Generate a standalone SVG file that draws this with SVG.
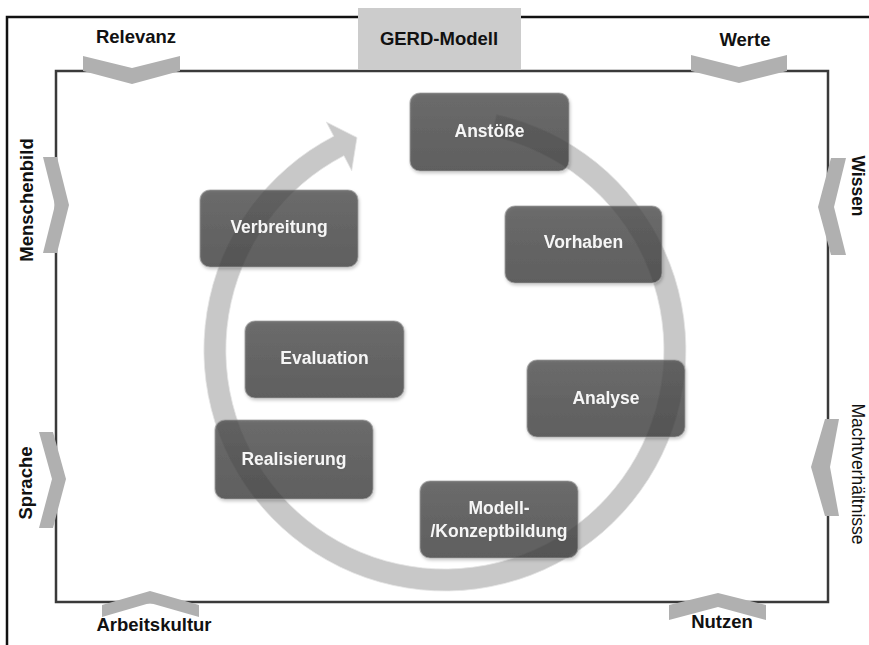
<svg xmlns="http://www.w3.org/2000/svg" width="869" height="645" viewBox="0 0 869 645">
<style>
.lbl{font-family:"Liberation Sans",Arial,sans-serif;font-weight:700;font-size:18.5px;fill:#111;text-anchor:middle}
.lblr{font-family:"Liberation Sans",Arial,sans-serif;font-weight:400;font-size:17.5px;fill:#111;text-anchor:middle}
.side{font-size:17.5px}
.chev{fill:#b0b0b0}
.box{fill:url(#boxg);fill-opacity:0.76;stroke:#9a9a9a;stroke-opacity:0.7;stroke-width:1.2}
.btxt{font-family:"Liberation Sans",Arial,sans-serif;font-weight:700;font-size:17.5px;fill:#f6f6f6;text-anchor:middle}
</style>
<defs>
<linearGradient id="boxg" x1="0" y1="0" x2="0" y2="1">
<stop offset="0" stop-color="#4a4a4a"/>
<stop offset="1" stop-color="#3a3a3a"/>
</linearGradient>
<filter id="sh" x="-10%" y="-10%" width="130%" height="140%">
<feDropShadow dx="1" dy="2" stdDeviation="1.5" flood-color="#000" flood-opacity="0.25"/>
</filter>
</defs>
<rect width="869" height="645" fill="#fff"/>
<g id="frame">
<path d="M7,645 V17 H869" fill="none" stroke="#111" stroke-width="2.5"/>
<rect x="56" y="71" width="772" height="531" fill="none" stroke="#3a3a3a" stroke-width="2.5"/>
</g>
<g id="title">
<rect x="358" y="8" width="163" height="62" fill="#cccccc"/>
<text class="lbl" x="439" y="45">GERD-Modell</text>
</g>
<g id="influences">
<g id="relevanz"><polygon class="chev" points="83,56 132,68 180,56 180,71 132,84 83,71"/><text class="lbl" x="136" y="43">Relevanz</text></g>
<g id="werte"><polygon class="chev" points="691,55 739,67 787,55 787,71 739,83 691,71"/><text class="lbl" x="745" y="46">Werte</text></g>
<g id="menschenbild"><polygon class="chev" points="43,157 57,157 69,205 57,253 43,253 55,205"/><text class="lbl" transform="translate(33,200) rotate(-90)">Menschenbild</text></g>
<g id="sprache"><polygon class="chev" points="39,432 53,432 66,479 53,528 39,528 52,479"/><text class="lbl" transform="translate(32,483) rotate(-90)">Sprache</text></g>
<g id="wissen"><polygon class="chev" points="846,158 831,158 818,207 831,255 846,255 834,207"/><text class="lbl side" transform="translate(852,186) rotate(90)">Wissen</text></g>
<g id="machtverhaeltnisse"><polygon class="chev" points="839,419 825,419 811,467 825,516 839,516 830,467"/><text class="lblr" transform="translate(852,474) rotate(90)">Machtverhältnisse</text></g>
<g id="arbeitskultur"><polygon class="chev" points="102,605 150,591 199,605 199,617 150,603 102,617"/><text class="lbl" x="154" y="631">Arbeitskultur</text></g>
<g id="nutzen"><polygon class="chev" points="669,605 718,593 766,605 766,620 718,607 669,620"/><text class="lbl" x="722" y="628">Nutzen</text></g>
</g>
<g id="connectors">
<path d="M496.5,114.6 A241,241 0 1 1 333.7,136.2 L326.3,122 L357,137.5 L351.7,170.8 L343.9,155.7 A219,219 0 1 0 491.8,136.1 Z" fill="#c8c8c8" stroke="#e6e6e6" stroke-width="0.8"/>
</g>
<g id="nodes" filter="url(#sh)">
<g id="anstoesse"><rect class="box" x="410" y="93" width="159" height="78" rx="10"/><text class="btxt" x="489.5" y="137">Anstöße</text></g>
<g id="vorhaben"><rect class="box" x="505" y="206" width="157" height="77" rx="10"/><text class="btxt" x="583.5" y="248">Vorhaben</text></g>
<g id="analyse"><rect class="box" x="527" y="360" width="158" height="77" rx="10"/><text class="btxt" x="606" y="404">Analyse</text></g>
<g id="modellbildung"><rect class="box" x="420" y="481" width="158" height="77" rx="10"/><text class="btxt" x="499" y="514">Modell-</text><text class="btxt" x="499" y="537">/Konzeptbildung</text></g>
<g id="realisierung"><rect class="box" x="215" y="420" width="158" height="79" rx="10"/><text class="btxt" x="294" y="465">Realisierung</text></g>
<g id="evaluation"><rect class="box" x="245" y="321" width="159" height="77" rx="10"/><text class="btxt" x="324.5" y="364">Evaluation</text></g>
<g id="verbreitung"><rect class="box" x="200" y="190" width="158" height="77" rx="10"/><text class="btxt" x="279" y="233">Verbreitung</text></g>
</g>
</svg>
